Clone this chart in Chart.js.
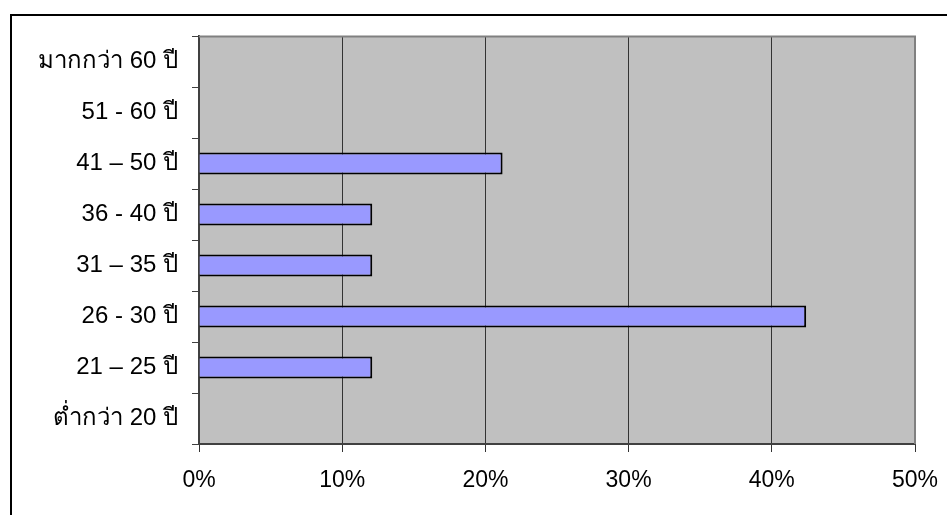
<!DOCTYPE html>
<html>
<head>
<meta charset="utf-8">
<script src="https://cdn.jsdelivr.net/npm/chart.js@4"></script>
<style>
  html, body { margin: 0; padding: 0; background: #ffffff; }
  #wrap { position: relative; width: 947px; height: 515px; overflow: hidden; }
  #frame { position: absolute; left: 10px; top: 14px; width: 1000px; height: 600px; border: 2px solid #000; box-sizing: border-box; }
  canvas { position: absolute; left: 0; top: 0; }
</style>
</head>
<body>
<div id="wrap">
  <div id="frame"></div>
  <canvas id="c" width="947" height="515"></canvas>
</div>
<script>
const categories = ['มากกว่า 60 ปี', '51 - 60 ปี', '41 – 50 ปี', '36 - 40 ปี', '31 – 35 ปี', '26 - 30 ปี', '21 – 25 ปี', 'ต่ำกว่า 20 ปี'];
const percentValues = [0, 0, 21.2, 12.1, 12.1, 42.4, 12.1, 0];
const xTickMax = 50;
const xTickStep = 10;

const plotBg = {
  id: 'plotBg',
  beforeDraw(chart) {
    const { ctx, chartArea: a } = chart;
    ctx.save();
    ctx.fillStyle = '#C0C0C0';
    ctx.fillRect(a.left, a.top, a.right - a.left, a.bottom - a.top);
    ctx.restore();
  },
  afterDatasetsDraw(chart) {
    const { ctx, chartArea: a } = chart;
    ctx.save();
    ctx.strokeStyle = '#808080';
    ctx.lineWidth = 2;
    ctx.beginPath();
    ctx.moveTo(a.left, a.top + 0.5);
    ctx.lineTo(a.right, a.top + 0.5);
    ctx.lineTo(a.right, a.bottom);
    ctx.stroke();
    ctx.restore();
  }
};

new Chart(document.getElementById('c'), {
  type: 'bar',
  data: {
    labels: categories,
    datasets: [{
      data: percentValues,
      backgroundColor: '#9999FF',
      borderColor: '#000000',
      borderWidth: 2,
      barPercentage: 0.43,
      categoryPercentage: 1.0
    }]
  },
  options: {
    indexAxis: 'y',
    responsive: false,
    animation: false,
    devicePixelRatio: 1,
    layout: { padding: { left: 0, top: 36, right: 32, bottom: 0 } },
    plugins: { legend: { display: false }, tooltip: { enabled: false } },
    scales: {
      x: {
        min: 0, max: xTickMax,
        ticks: {
          stepSize: xTickStep,
          callback: v => v + '%',
          color: '#000',
          font: { family: '"Liberation Sans", Arial, sans-serif', size: 23 },
          padding: 15,
          maxRotation: 0
        },
        grid: { color: '#333333', lineWidth: 1, tickLength: 8, tickColor: '#333333' },
        border: { color: '#404040', width: 2 },
        afterFit(scale) { scale.height = 71; scale.paddingRight = 0; scale.paddingLeft = 0; }
      },
      y: {
        offset: true,
        ticks: {
          color: '#000',
          font: { family: '"Liberation Sans", Arial, sans-serif', size: 24 },
          padding: 14
        },
        grid: { offset: true, drawOnChartArea: false, tickLength: 7, color: '#404040' },
        border: { color: '#404040', width: 2 },
        afterFit(scale) { scale.width = 199; scale.paddingTop = 0; scale.paddingBottom = 0; }
      }
    }
  },
  plugins: [plotBg]
});
</script>
</body>
</html>
